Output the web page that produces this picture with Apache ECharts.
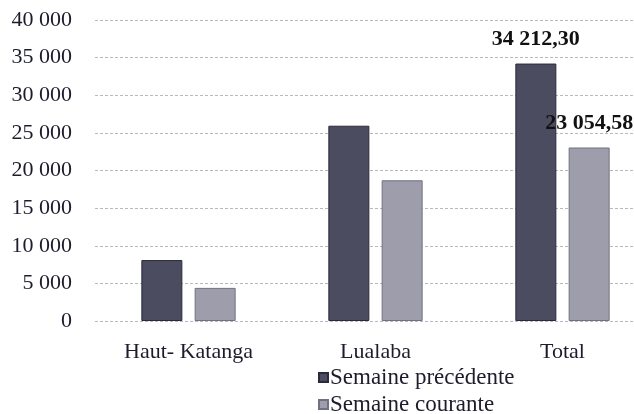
<!DOCTYPE html>
<html>
<head>
<meta charset="utf-8">
<script src="https://cdn.jsdelivr.net/npm/echarts@6/dist/echarts.min.js"></script>
<style>
  html, body { margin: 0; padding: 0; background: #fff; }
  #main { width: 634px; height: 414px; }
</style>
</head>
<body>
<div id="main"></div>
<script>
// donnees
var categories = ["Haut- Katanga", "Lualaba", "Total"];
var seriesNames = ["Semaine précédente", "Semaine courante"];
var prevWeek = [8100, 25950, 34212.30];
var curWeek = [4400, 18700, 23054.58];
var labelled = [false, false, true]; // seule la colonne Total porte une valeur

var FONT = "Liberation Serif";
var TXT = "#1c1c2c";

// 34212.3 -> "34 212,30"
function frNumber(v, dec) {
  var s = v.toFixed(dec).split(".");
  var ent = s[0].replace(/\B(?=(\d{3})+(?!\d))/g, " ");
  return s.length > 1 ? ent + "," + s[1] : ent;
}

function buildData(values) {
  return values.map(function (v, i) {
    return { value: v, label: { show: labelled[i] } };
  });
}

function legendFor(name, top) {
  return {
    left: 313,
    top: top,
    itemWidth: 9,
    itemHeight: 9,
    icon: "rect",
    textStyle: { fontFamily: FONT, fontSize: 23, color: TXT, padding: [0, 0, 0, -3] },
    data: [name]
  };
}

var chart = echarts.init(document.getElementById("main"));

var barLabel = {
  position: "top",
  distance: 13,
  fontFamily: FONT,
  fontSize: 22,
  fontWeight: "bold",
  color: "#111",
  formatter: function (p) { return frNumber(p.value, 2); }
};

var option = {
  animation: false,
  backgroundColor: "#ffffff",
  textStyle: { fontFamily: FONT },
  grid: { left: 95, top: 20, width: 561, height: 301, outerBoundsMode: "none", containLabel: false },
  legend: [legendFor(seriesNames[0], 361), legendFor(seriesNames[1], 388)],
  xAxis: {
    type: "category",
    data: categories,
    axisLine: { show: false },
    axisTick: { show: false },
    axisLabel: { fontFamily: FONT, fontSize: 22, color: TXT, margin: 20 }
  },
  yAxis: {
    type: "value",
    min: 0,
    max: 40000,
    interval: 5000,
    axisLine: { show: false },
    axisTick: { show: false },
    splitLine: { lineStyle: { color: "#b8b8c2", type: [3, 2], width: 1 } },
    axisLabel: {
      fontFamily: FONT,
      fontSize: 22,
      color: TXT,
      margin: 23,
      formatter: function (v) { return frNumber(v, 0); }
    }
  },
  series: [
    {
      name: seriesNames[0],
      type: "bar",
      barWidth: 41,
      barGap: "30%",
      data: buildData(prevWeek),
      itemStyle: { color: "#4c4c60", borderColor: "#2a2a3a", borderWidth: 1 },
      label: barLabel
    },
    {
      name: seriesNames[1],
      type: "bar",
      barWidth: 41,
      data: buildData(curWeek),
      itemStyle: { color: "#9d9dac", borderColor: "#70707e", borderWidth: 1 },
      label: barLabel
    }
  ]
};

chart.setOption(option);
</script>
</body>
</html>
